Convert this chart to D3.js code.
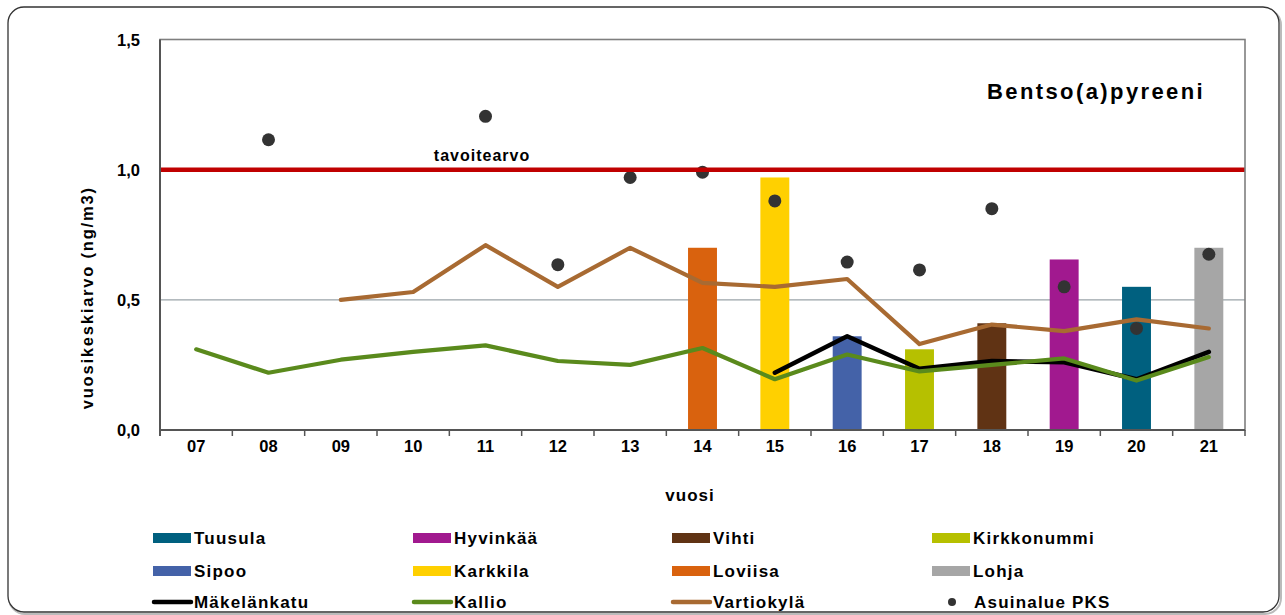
<!DOCTYPE html>
<html><head><meta charset="utf-8">
<script src="https://cdn.jsdelivr.net/npm/d3@7/dist/d3.min.js"></script>
<style>
html,body{margin:0;padding:0;background:#fff;}
svg text{font-family:"Liberation Sans",Arial,sans-serif;font-weight:bold;fill:#000;}
</style></head>
<body>
<svg id="chart" width="1285" height="615"></svg>
<script>
const years = ["07","08","09","10","11","12","13","14","15","16","17","18","19","20","21"];
const yTicks = [0, 0.5, 1.0, 1.5];
const barNames  = ["Loviisa","Karkkila","Sipoo","Kirkkonummi","Vihti","Hyvinkää","Tuusula","Lohja"];
const barYears  = ["14","15","16","17","18","19","20","21"];
const barValues = [0.70, 0.97, 0.36, 0.31, 0.41, 0.655, 0.55, 0.70];
const barColors = ["#d9620e","#ffd000","#4462a8","#b6c000","#603314","#a1198f","#00607f","#a6a6a6"];
const vartiokyla  = [null,null,0.50,0.53,0.71,0.55,0.70,0.565,0.55,0.58,0.33,0.405,0.38,0.425,0.39];
const makelankatu = [null,null,null,null,null,null,null,null,0.22,0.36,0.235,0.265,0.26,0.195,0.30];
const kallio      = [0.31,0.22,0.27,0.30,0.325,0.265,0.25,0.315,0.195,0.29,0.225,0.25,0.275,0.19,0.28];
const asuinalue   = [null,1.115,null,null,1.205,0.635,0.97,0.99,0.88,0.645,0.615,0.85,0.55,0.39,0.675];
const targetValue = 1.0;
const targetLabel = "tavoitearvo";
const title = "Bentso(a)pyreeni";
const yTitle = "vuosikeskiarvo (ng/m3)";
const xTitle = "vuosi";
const legendItems = [
  ["Tuusula","bar","#00607f"],["Hyvinkää","bar","#a1198f"],["Vihti","bar","#603314"],["Kirkkonummi","bar","#b6c000"],
  ["Sipoo","bar","#4462a8"],["Karkkila","bar","#ffd000"],["Loviisa","bar","#d9620e"],["Lohja","bar","#a6a6a6"],
  ["Mäkelänkatu","line","#000000"],["Kallio","line","#5a8a1c"],["Vartiokylä","line","#a86a32"],["Asuinalue PKS","dot","#333333"]
];

const svg = d3.select("#chart");
const L = 160, R = 1245, T = 39.5, B = 430;

// outer frame
svg.append("rect").attr("x",9).attr("y",9).attr("width",1272).attr("height",605)
  .attr("rx",16).attr("fill","none").attr("stroke","#bbb").attr("stroke-width",2);
svg.append("rect").attr("x",8).attr("y",7).attr("width",1271).attr("height",605)
  .attr("rx",16).attr("fill","#fff").attr("stroke","#333").attr("stroke-width",1.3);

const x = d3.scaleBand().domain(years).range([L, R]).padding(0);
const y = d3.scaleLinear().domain([0, 1.5]).range([B, T]);
const cx = d => x(d) + x.bandwidth()/2;

// gridline 0.5
svg.append("line").attr("x1",L).attr("x2",R).attr("y1",y(0.5)).attr("y2",y(0.5))
  .attr("stroke","#9aa3a8").attr("stroke-width",1.2);

// bars
const bw = x.bandwidth()*0.4;
svg.append("g").selectAll("rect").data(barValues).join("rect")
  .attr("x",(d,i)=>cx(barYears[i])-bw/2).attr("width",bw)
  .attr("y",d=>y(d)).attr("height",d=>B-y(d))
  .attr("fill",(d,i)=>barColors[i]);

// lines
function drawLine(vals,color,w){
  const line = d3.line().defined(d=>d!=null).x((d,i)=>cx(years[i])).y(d=>y(d));
  svg.append("path").datum(vals).attr("d",line).attr("fill","none")
    .attr("stroke",color).attr("stroke-width",w).attr("stroke-linejoin","round").attr("stroke-linecap","round");
}
drawLine(vartiokyla,"#a86a32",4.2);
drawLine(makelankatu,"#000",4.5);
drawLine(kallio,"#5a8a1c",4.2);

// dots
svg.append("g").selectAll("circle").data(years.map((yr,i)=>[yr,asuinalue[i]]).filter(d=>d[1]!=null))
  .join("circle").attr("cx",d=>cx(d[0])).attr("cy",d=>y(d[1])).attr("r",6.5).attr("fill","#333");

// target line
svg.append("line").attr("x1",L).attr("x2",R).attr("y1",y(targetValue)).attr("y2",y(targetValue))
  .attr("stroke","#c00000").attr("stroke-width",4.5);
svg.append("text").attr("x",482).attr("y",y(targetValue)-9)
  .attr("text-anchor","middle").attr("font-size",16).attr("letter-spacing",1).text(targetLabel);

// plot border
svg.append("rect").attr("x",L).attr("y",T).attr("width",R-L).attr("height",B-T)
  .attr("fill","none").attr("stroke","#7f7f7f").attr("stroke-width",1.6);

// x axis
const xAxis = svg.append("g").attr("transform",`translate(0,${B})`);
xAxis.append("line").attr("x1",L).attr("x2",R).attr("stroke","#555").attr("stroke-width",2);
const bounds = years.map(d=>x(d)).concat([R]);
xAxis.selectAll("line.tk").data(bounds).join("line").attr("class","tk")
  .attr("x1",d=>d).attr("x2",d=>d).attr("y1",0).attr("y2",6).attr("stroke","#555").attr("stroke-width",1.5);
xAxis.selectAll("text").data(years).join("text")
  .attr("x",d=>cx(d)).attr("y",22).attr("text-anchor","middle").attr("font-size",16.5).text(d=>d);

// y axis labels
svg.append("line").attr("x1",L).attr("x2",L).attr("y1",T).attr("y2",B+6).attr("stroke","#555").attr("stroke-width",2);
svg.append("g").selectAll("text").data(yTicks).join("text")
  .attr("x",140).attr("y",d=>y(d)+6).attr("text-anchor","end").attr("font-size",16.5)
  .text(d=>d3.format(".1f")(d).replace(".",","));

// titles
svg.append("text").attr("transform",`translate(93,${(T+B)/2+63}) rotate(-90)`)
  .attr("text-anchor","middle").attr("font-size",16.5).attr("letter-spacing",1.8).text(yTitle);
svg.append("text").attr("x",690).attr("y",501).attr("text-anchor","middle")
  .attr("font-size",17).attr("letter-spacing",1).text(xTitle);
svg.append("text").attr("x",987).attr("y",99).attr("font-size",22).attr("letter-spacing",2.4)
  .text(title);

// legend
const colX = [153, 413, 672, 932], rowY = [538, 571, 602];
const lg = svg.append("g").selectAll("g").data(legendItems).join("g")
  .attr("transform",(d,i)=>`translate(${colX[i%4]},${rowY[Math.floor(i/4)]})`);
lg.each(function(d){
  const g = d3.select(this);
  if(d[1]==="bar") g.append("rect").attr("x",0).attr("y",-5).attr("width",38).attr("height",10).attr("fill",d[2]);
  else if(d[1]==="line") g.append("line").attr("x1",1).attr("x2",38).attr("stroke",d[2]).attr("stroke-width",4.5).attr("stroke-linecap","round");
  else g.append("circle").attr("cx",20).attr("cy",0).attr("r",4).attr("fill",d[2]);
  g.append("text").attr("x",d[1]==="dot"?42:41).attr("y",6).attr("font-size",17).attr("letter-spacing",1.2).text(d[0]);
});
</script>
</body></html>
